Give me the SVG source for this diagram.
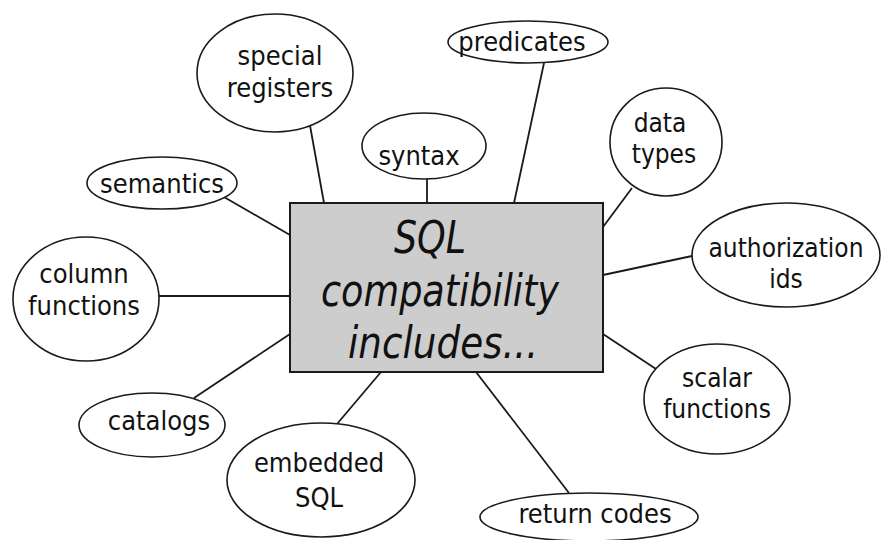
<svg xmlns="http://www.w3.org/2000/svg" width="884" height="540" viewBox="0 0 884 540">
<defs>
<style>
.bg{fill:#ffffff}
.node ellipse{fill:#ffffff;stroke:#1a1a1a;stroke-width:1.6}
.node text{font-family:"DejaVu Sans Condensed","DejaVu Sans","Liberation Sans",sans-serif;font-stretch:condensed;font-size:27px;fill:#111;text-anchor:middle}
.node text.tight{font-size:26px}
.hub rect{fill:#cdcdcd;stroke:#1a1a1a;stroke-width:2}
.hub text{font-family:"DejaVu Sans Condensed","DejaVu Sans","Liberation Sans",sans-serif;font-stretch:condensed;font-style:italic;font-size:44px;fill:#111;text-anchor:middle}
.conn line{stroke:#1a1a1a;stroke-width:1.8}
</style>
</defs>
<rect class="bg" x="0" y="0" width="884" height="540"/>
<g id="connectors" class="conn">
<line x1="309" y1="120" x2="324" y2="203"/>
<line x1="427" y1="179" x2="427" y2="203"/>
<line x1="544" y1="63" x2="514" y2="203"/>
<line x1="632" y1="188" x2="603" y2="227"/>
<line x1="692" y1="256" x2="603" y2="275"/>
<line x1="656" y1="369" x2="603" y2="334"/>
<line x1="224" y1="197" x2="290" y2="235"/>
<line x1="159" y1="296" x2="290" y2="296"/>
<line x1="194" y1="398" x2="290" y2="334"/>
<line x1="337" y1="424" x2="381" y2="372"/>
<line x1="569" y1="493" x2="476" y2="372"/>
</g>
<g id="hub" class="hub">
<rect x="290" y="203" width="313" height="169"/>
<text><tspan x="430" y="253" textLength="72" lengthAdjust="spacingAndGlyphs">SQL</tspan><tspan x="440" y="306" textLength="238" lengthAdjust="spacingAndGlyphs">compatibility</tspan><tspan x="443" y="358" textLength="190" lengthAdjust="spacingAndGlyphs">includes...</tspan></text>
</g>
<g id="special-registers" class="node">
<ellipse cx="275" cy="73" rx="78" ry="59"/>
<text><tspan x="280" y="65">special</tspan><tspan x="280" y="97">registers</tspan></text>
</g>
<g id="syntax" class="node">
<ellipse cx="424" cy="146" rx="62" ry="33"/>
<text x="419" y="165">syntax</text>
</g>
<g id="predicates" class="node">
<ellipse cx="528" cy="42" rx="80" ry="21"/>
<text x="522" y="51">predicates</text>
</g>
<g id="data-types" class="node">
<ellipse cx="666" cy="142" rx="56" ry="54"/>
<text class="tight"><tspan x="660" y="132">data</tspan><tspan x="664" y="163">types</tspan></text>
</g>
<g id="semantics" class="node">
<ellipse cx="162" cy="183" rx="75" ry="26"/>
<text x="162" y="193">semantics</text>
</g>
<g id="column-functions" class="node">
<ellipse cx="86" cy="299" rx="73" ry="62"/>
<text><tspan x="84" y="283">column</tspan><tspan x="84" y="315">functions</tspan></text>
</g>
<g id="catalogs" class="node">
<ellipse cx="152" cy="425" rx="73" ry="32"/>
<text x="159" y="430">catalogs</text>
</g>
<g id="embedded-sql" class="node">
<ellipse cx="321" cy="480" rx="94" ry="57"/>
<text><tspan x="319" y="472">embedded</tspan><tspan x="319" y="507">SQL</tspan></text>
</g>
<g id="return-codes" class="node">
<ellipse cx="589" cy="517" rx="109" ry="24"/>
<text x="595" y="523">return codes</text>
</g>
<g id="authorization-ids" class="node">
<ellipse cx="786" cy="255" rx="94" ry="52"/>
<text class="tight"><tspan x="786" y="257">authorization</tspan><tspan x="786" y="288">ids</tspan></text>
</g>
<g id="scalar-functions" class="node">
<ellipse cx="717" cy="399" rx="73" ry="55"/>
<text class="tight"><tspan x="717" y="387">scalar</tspan><tspan x="717" y="418">functions</tspan></text>
</g>
</svg>
